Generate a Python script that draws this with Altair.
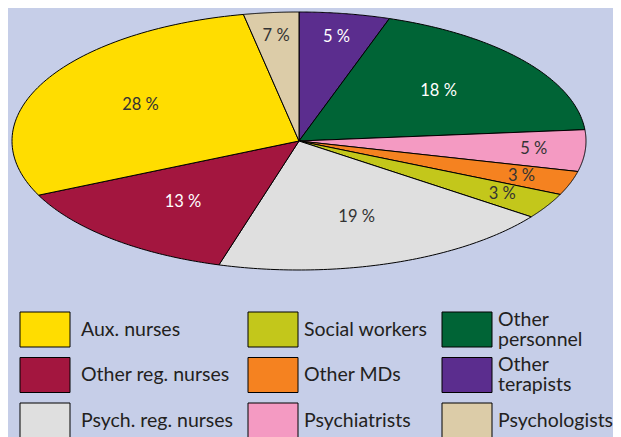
import altair as alt
import pandas as pd

# Pie slices, clockwise from 12 o'clock
categories = ["Other terapists", "Other personnel", "Psychiatrists", "Other MDs",
              "Social workers", "Psych. reg. nurses", "Other reg. nurses",
              "Aux. nurses", "Psychologists"]
shares = [5.1, 18.5, 5.2, 3.0, 3.2, 19.5, 13.6, 28.8, 3.1]
labels = ["5 %", "18 %", "5 %", "3 %", "3 %", "19 %", "13 %", "28 %", "7 %"]

# Legend order (row by row, 3 columns) and colours
legend_order = ["Aux. nurses", "Social workers", "Other personnel",
                "Other reg. nurses", "Other MDs", "Other terapists",
                "Psych. reg. nurses", "Psychiatrists", "Psychologists"]
legend_colors = ["#FFDD00", "#C3C71B", "#006436",
                 "#A3163F", "#F58220", "#5B2D8E",
                 "#DFDFDF", "#F49AC2", "#DCCCA8"]
wrapped = ["Other personnel", "Other terapists"]
dark_slices = ["Other reg. nurses", "Other personnel", "Other terapists"]

df = pd.DataFrame({"cat": categories, "share": shares, "label": labels,
                   "order": list(range(len(categories)))})
leg_df = pd.DataFrame({"cat": legend_order, "idx": list(range(len(legend_order)))})

FONT = "Lato"
N = 80

fill_scale = alt.Scale(domain=legend_order, range=legend_colors)

base = (
    alt.Chart(df)
    .transform_window(cum="sum(share)", sort=[alt.SortField("order")], frame=[None, 0])
    .transform_joinaggregate(total="sum(share)")
    .transform_calculate(
        a0="2*PI*(datum.cum - datum.share)/datum.total",
        a1="2*PI*datum.cum/datum.total",
    )
)

xs = alt.Scale(domain=[-1, 1], nice=False, zero=False)
ys = alt.Scale(domain=[-1, 1], nice=False, zero=False)

wedges = (
    base.transform_calculate(k=f"sequence(0, {N + 2})")
    .transform_flatten(["k"])
    .transform_calculate(
        t=f"datum.k <= {N} ? datum.a0 + (datum.a1 - datum.a0) * datum.k / {N} : 0",
    )
    .transform_calculate(
        px=f"datum.k <= {N} ? sin(datum.t) : 0",
        py=f"datum.k <= {N} ? cos(datum.t) : 0",
    )
    .mark_line(interpolate="linear-closed", stroke="black", strokeWidth=1,
               strokeJoin="round")
    .encode(
        x=alt.X("px:Q", scale=xs, axis=None),
        y=alt.Y("py:Q", scale=ys, axis=None),
        order=alt.Order("k:Q"),
        detail=alt.Detail("cat:N"),
        fill=alt.Fill("cat:N", scale=fill_scale, legend=None),
    )
)

texts = (
    base.transform_calculate(
        mid="(datum.a0 + datum.a1) / 2",
        r="datum.share < 8 ? 0.82 : 0.62",
    )
    .transform_calculate(
        lx="datum.r * sin(datum.mid)",
        ly="datum.r * cos(datum.mid)",
        dark=f"indexof({dark_slices!r}, datum.cat) >= 0",
    )
    .mark_text(font=FONT, fontSize=16.5)
    .encode(
        x=alt.X("lx:Q", scale=xs, axis=None),
        y=alt.Y("ly:Q", scale=ys, axis=None),
        text="label:N",
        color=alt.condition("datum.dark", alt.value("white"), alt.value("#333333")),
    )
)

# Hand-laid legend: 3 columns x 3 rows (layout in pixels of the plot area)
leg_base = (
    alt.Chart(leg_df)
    .transform_calculate(col="datum.idx % 3", row="floor(datum.idx / 3)")
    .transform_calculate(
        bx="[8, 236, 430][datum.col]",
        by="300 + 45.5 * datum.row",
    )
    .transform_calculate(
        bx2="datum.bx + 50",
        by2="datum.by + 35",
        tx="datum.bx + [61, 56, 56][datum.col]",
        ty="datum.by + 17.5",
        txt=f"indexof({wrapped!r}, datum.cat) >= 0 ? split(datum.cat, ' ') : datum.cat",
        multi=f"indexof({wrapped!r}, datum.cat) >= 0",
    )
)

leg_boxes = leg_base.mark_rect(stroke="black", strokeWidth=1).encode(
    x=alt.X("bx:Q", scale=None, axis=None),
    x2="bx2:Q",
    y=alt.Y("by:Q", scale=None, axis=None),
    y2="by2:Q",
    fill=alt.Fill("cat:N", scale=fill_scale, legend=None),
)

leg_text_single = leg_base.transform_filter("!datum.multi").mark_text(
    font=FONT, fontSize=19.5, align="left", baseline="middle", color="#231f20"
).encode(
    x=alt.X("tx:Q", scale=None, axis=None),
    y=alt.Y("ty:Q", scale=None, axis=None),
    text="txt:N",
)

leg_text_multi = leg_base.transform_filter("datum.multi").mark_text(
    font=FONT, fontSize=19.5, align="left", baseline="middle", color="#231f20",
    lineHeight=20, dy=-10
).encode(
    x=alt.X("tx:Q", scale=None, axis=None),
    y=alt.Y("ty:Q", scale=None, axis=None),
    text="txt:N",
)

chart = (
    alt.layer(wedges, texts, leg_boxes, leg_text_single, leg_text_multi)
    .properties(width=574, height=258,
                autosize=alt.AutoSizeParams(type="none"),
                padding={"left": 4, "top": 4, "right": 27, "bottom": 167},
                background="#C6CEE8")
    .configure_view(stroke=None)
)

chart.save("out.html", embed_options={"renderer": "svg", "actions": False})
